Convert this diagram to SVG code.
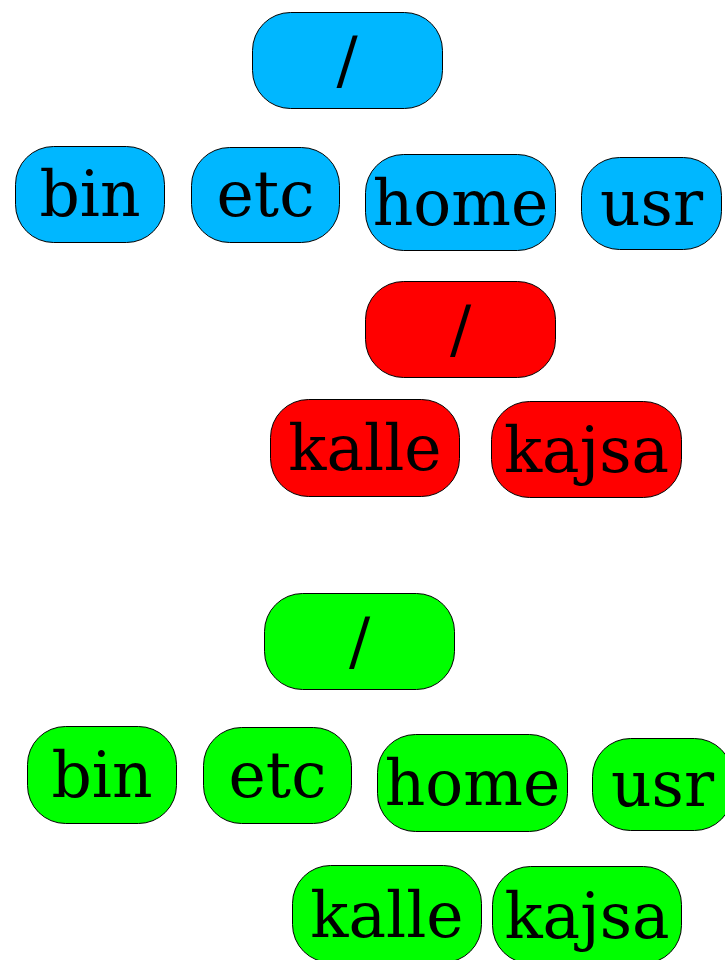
<svg xmlns="http://www.w3.org/2000/svg" width="725" height="960" viewBox="0 0 725 960">
<style>
.n rect{stroke:#000;stroke-width:1;}
.b rect{fill:#00B7FF;}
.r rect{fill:#FF0000;}
.g rect{fill:#00FF00;}
text{font-family:"DejaVu Serif",serif;font-size:63px;fill:#000;text-anchor:middle;}
</style>
<rect width="725" height="960" fill="#fff"/>
<g id="connectors"/>
<g class="n b">
<g id="b-root"><rect x="252.5" y="12.5" width="190" height="96" rx="38"/><text x="347" y="82">/</text></g>
<g id="b-bin"><rect x="15.5" y="146.5" width="149" height="96" rx="38"/><text x="90" y="216">bin</text></g>
<g id="b-etc"><rect x="191.5" y="147.5" width="148" height="95" rx="38"/><text x="265.5" y="216">etc</text></g>
<g id="b-home"><rect x="365.5" y="154.5" width="190" height="96" rx="38"/><text x="460.5" y="225">home</text></g>
<g id="b-usr"><rect x="581.5" y="157.5" width="140" height="92" rx="38"/><text x="651.5" y="225">usr</text></g>
</g>
<g class="n r">
<g id="r-root"><rect x="365.5" y="281.5" width="190" height="96" rx="38"/><text x="460.5" y="351">/</text></g>
<g id="r-kalle"><rect x="270.5" y="399.5" width="189" height="97" rx="38"/><text x="365" y="470">kalle</text></g>
<g id="r-kajsa"><rect x="491.5" y="401.5" width="190" height="96" rx="38"/><text x="586.5" y="472">kajsa</text></g>
</g>
<g class="n g">
<g id="g-root"><rect x="264.5" y="593.5" width="190" height="96" rx="38"/><text x="359.5" y="663">/</text></g>
<g id="g-bin"><rect x="27.5" y="726.5" width="149" height="97" rx="38"/><text x="102" y="797">bin</text></g>
<g id="g-etc"><rect x="203.5" y="727.5" width="148" height="96" rx="38"/><text x="277.5" y="797">etc</text></g>
<g id="g-home"><rect x="377.5" y="734.5" width="190" height="97" rx="38"/><text x="472.5" y="805">home</text></g>
<g id="g-usr"><rect x="592.5" y="738.5" width="140" height="92" rx="38"/><text x="662.5" y="806">usr</text></g>
<g id="g-kalle"><rect x="292.5" y="865.5" width="189" height="97" rx="38"/><text x="387" y="937">kalle</text></g>
<g id="g-kajsa"><rect x="492.5" y="866.5" width="189" height="97" rx="38"/><text x="587" y="938">kajsa</text></g>
</g>
</svg>
